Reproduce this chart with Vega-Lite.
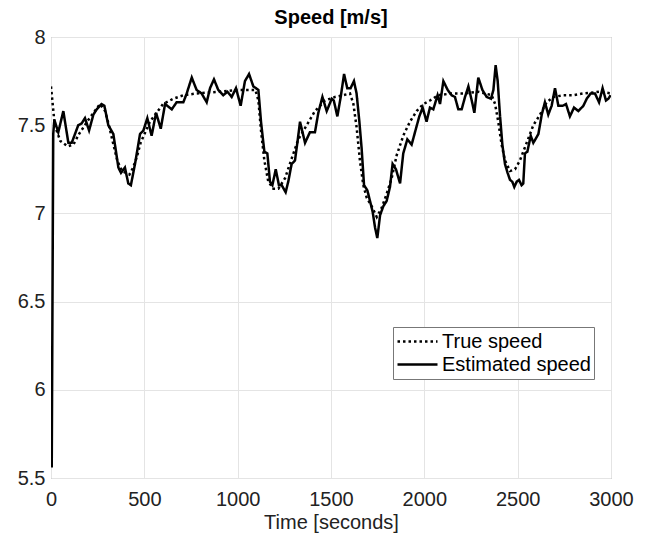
{
  "$schema": "https://vega.github.io/schema/vega-lite/v6.json",
  "width": 560,
  "height": 441,
  "autosize": {"type": "none"},
  "padding": {"left": 51, "top": 37, "right": 35, "bottom": 57},
  "background": "white",
  "title": {"text": "Speed [m/s]", "fontSize": 20, "font": "Liberation Sans", "fontWeight": "bold", "color": "black", "offset": -1},
  "config": {
    "view": {"stroke": "#8c8c8c", "strokeWidth": 1},
    "axis": {
      "labelFont": "Liberation Sans", "labelFontSize": 20, "labelColor": "#222",
      "titleFont": "Liberation Sans", "titleFontSize": 20, "titleColor": "#222", "titleFontWeight": "normal",
      "gridColor": "#e4e4e4", "gridWidth": 1, "domain": false, "ticks": false, "labelFlush": false
    },
    "legend": {
      "orient": "none", "legendX": 342, "legendY": 290,
      "strokeColor": "#777", "fillColor": "white", "padding": 3,
      "labelFont": "Liberation Sans", "labelFontSize": 20, "labelColor": "black",
      "symbolType": "stroke", "symbolStrokeWidth": 2.5, "symbolSize": 1600, "symbolStrokeColor": "black",
      "clipHeight": 23, "rowPadding": 0, "labelOffset": 3
    }
  },
  "data": {"values": [
    {"s":"True speed","t":0,"v":7.72},{"s":"True speed","t":20,"v":7.5},{"s":"True speed","t":50,"v":7.41},{"s":"True speed","t":90,"v":7.38},{"s":"True speed","t":120,"v":7.39},{"s":"True speed","t":150,"v":7.45},{"s":"True speed","t":200,"v":7.53},{"s":"True speed","t":262,"v":7.62},{"s":"True speed","t":290,"v":7.58},{"s":"True speed","t":310,"v":7.5},{"s":"True speed","t":330,"v":7.41},{"s":"True speed","t":355,"v":7.3},{"s":"True speed","t":380,"v":7.24},{"s":"True speed","t":420,"v":7.22},{"s":"True speed","t":440,"v":7.26},{"s":"True speed","t":460,"v":7.32},{"s":"True speed","t":480,"v":7.4},{"s":"True speed","t":530,"v":7.52},{"s":"True speed","t":600,"v":7.62},{"s":"True speed","t":655,"v":7.65},{"s":"True speed","t":710,"v":7.67},{"s":"True speed","t":780,"v":7.68},{"s":"True speed","t":900,"v":7.69},{"s":"True speed","t":1000,"v":7.7},{"s":"True speed","t":1060,"v":7.7},{"s":"True speed","t":1095,"v":7.7},{"s":"True speed","t":1111,"v":7.64},{"s":"True speed","t":1125,"v":7.47},{"s":"True speed","t":1143,"v":7.3},{"s":"True speed","t":1164,"v":7.18},{"s":"True speed","t":1191,"v":7.14},{"s":"True speed","t":1218,"v":7.14},{"s":"True speed","t":1254,"v":7.2},{"s":"True speed","t":1289,"v":7.31},{"s":"True speed","t":1325,"v":7.42},{"s":"True speed","t":1370,"v":7.5},{"s":"True speed","t":1414,"v":7.58},{"s":"True speed","t":1468,"v":7.64},{"s":"True speed","t":1521,"v":7.66},{"s":"True speed","t":1566,"v":7.67},{"s":"True speed","t":1602,"v":7.68},{"s":"True speed","t":1620,"v":7.62},{"s":"True speed","t":1637,"v":7.49},{"s":"True speed","t":1655,"v":7.3},{"s":"True speed","t":1673,"v":7.16},{"s":"True speed","t":1691,"v":7.09},{"s":"True speed","t":1718,"v":7.04},{"s":"True speed","t":1745,"v":6.98},{"s":"True speed","t":1771,"v":7.03},{"s":"True speed","t":1798,"v":7.11},{"s":"True speed","t":1825,"v":7.2},{"s":"True speed","t":1852,"v":7.33},{"s":"True speed","t":1887,"v":7.44},{"s":"True speed","t":1923,"v":7.52},{"s":"True speed","t":1959,"v":7.58},{"s":"True speed","t":1995,"v":7.62},{"s":"True speed","t":2030,"v":7.64},{"s":"True speed","t":2075,"v":7.67},{"s":"True speed","t":2146,"v":7.68},{"s":"True speed","t":2218,"v":7.68},{"s":"True speed","t":2289,"v":7.69},{"s":"True speed","t":2361,"v":7.67},{"s":"True speed","t":2379,"v":7.62},{"s":"True speed","t":2396,"v":7.52},{"s":"True speed","t":2414,"v":7.39},{"s":"True speed","t":2432,"v":7.3},{"s":"True speed","t":2459,"v":7.24},{"s":"True speed","t":2486,"v":7.25},{"s":"True speed","t":2512,"v":7.3},{"s":"True speed","t":2548,"v":7.4},{"s":"True speed","t":2584,"v":7.5},{"s":"True speed","t":2620,"v":7.56},{"s":"True speed","t":2655,"v":7.63},{"s":"True speed","t":2691,"v":7.66},{"s":"True speed","t":2745,"v":7.67},{"s":"True speed","t":2800,"v":7.67},{"s":"True speed","t":2852,"v":7.68},{"s":"True speed","t":2941,"v":7.69},{"s":"True speed","t":3000,"v":7.68},
    {"s":"Estimated speed","t":4,"v":5.56},{"s":"Estimated speed","t":12,"v":7.45},{"s":"Estimated speed","t":18,"v":7.53},{"s":"Estimated speed","t":39,"v":7.46},{"s":"Estimated speed","t":66,"v":7.58},{"s":"Estimated speed","t":93,"v":7.4},{"s":"Estimated speed","t":111,"v":7.4},{"s":"Estimated speed","t":146,"v":7.5},{"s":"Estimated speed","t":164,"v":7.51},{"s":"Estimated speed","t":182,"v":7.54},{"s":"Estimated speed","t":204,"v":7.47},{"s":"Estimated speed","t":227,"v":7.56},{"s":"Estimated speed","t":245,"v":7.59},{"s":"Estimated speed","t":271,"v":7.62},{"s":"Estimated speed","t":286,"v":7.61},{"s":"Estimated speed","t":307,"v":7.5},{"s":"Estimated speed","t":334,"v":7.45},{"s":"Estimated speed","t":361,"v":7.26},{"s":"Estimated speed","t":375,"v":7.23},{"s":"Estimated speed","t":396,"v":7.26},{"s":"Estimated speed","t":414,"v":7.17},{"s":"Estimated speed","t":428,"v":7.16},{"s":"Estimated speed","t":450,"v":7.28},{"s":"Estimated speed","t":477,"v":7.45},{"s":"Estimated speed","t":495,"v":7.47},{"s":"Estimated speed","t":516,"v":7.54},{"s":"Estimated speed","t":539,"v":7.44},{"s":"Estimated speed","t":563,"v":7.57},{"s":"Estimated speed","t":588,"v":7.48},{"s":"Estimated speed","t":611,"v":7.62},{"s":"Estimated speed","t":647,"v":7.59},{"s":"Estimated speed","t":673,"v":7.63},{"s":"Estimated speed","t":709,"v":7.63},{"s":"Estimated speed","t":727,"v":7.68},{"s":"Estimated speed","t":754,"v":7.77},{"s":"Estimated speed","t":780,"v":7.7},{"s":"Estimated speed","t":807,"v":7.68},{"s":"Estimated speed","t":834,"v":7.63},{"s":"Estimated speed","t":852,"v":7.71},{"s":"Estimated speed","t":873,"v":7.76},{"s":"Estimated speed","t":896,"v":7.7},{"s":"Estimated speed","t":923,"v":7.67},{"s":"Estimated speed","t":945,"v":7.69},{"s":"Estimated speed","t":968,"v":7.66},{"s":"Estimated speed","t":991,"v":7.71},{"s":"Estimated speed","t":1016,"v":7.61},{"s":"Estimated speed","t":1039,"v":7.75},{"s":"Estimated speed","t":1061,"v":7.79},{"s":"Estimated speed","t":1084,"v":7.72},{"s":"Estimated speed","t":1111,"v":7.7},{"s":"Estimated speed","t":1125,"v":7.52},{"s":"Estimated speed","t":1143,"v":7.35},{"s":"Estimated speed","t":1159,"v":7.34},{"s":"Estimated speed","t":1173,"v":7.18},{"s":"Estimated speed","t":1186,"v":7.16},{"s":"Estimated speed","t":1204,"v":7.25},{"s":"Estimated speed","t":1221,"v":7.16},{"s":"Estimated speed","t":1236,"v":7.16},{"s":"Estimated speed","t":1257,"v":7.12},{"s":"Estimated speed","t":1271,"v":7.18},{"s":"Estimated speed","t":1289,"v":7.28},{"s":"Estimated speed","t":1307,"v":7.3},{"s":"Estimated speed","t":1321,"v":7.41},{"s":"Estimated speed","t":1334,"v":7.52},{"s":"Estimated speed","t":1361,"v":7.4},{"s":"Estimated speed","t":1387,"v":7.46},{"s":"Estimated speed","t":1414,"v":7.46},{"s":"Estimated speed","t":1432,"v":7.57},{"s":"Estimated speed","t":1454,"v":7.66},{"s":"Estimated speed","t":1477,"v":7.58},{"s":"Estimated speed","t":1504,"v":7.65},{"s":"Estimated speed","t":1515,"v":7.64},{"s":"Estimated speed","t":1534,"v":7.55},{"s":"Estimated speed","t":1552,"v":7.66},{"s":"Estimated speed","t":1570,"v":7.79},{"s":"Estimated speed","t":1587,"v":7.71},{"s":"Estimated speed","t":1605,"v":7.71},{"s":"Estimated speed","t":1623,"v":7.75},{"s":"Estimated speed","t":1637,"v":7.68},{"s":"Estimated speed","t":1652,"v":7.52},{"s":"Estimated speed","t":1664,"v":7.37},{"s":"Estimated speed","t":1677,"v":7.16},{"s":"Estimated speed","t":1695,"v":7.13},{"s":"Estimated speed","t":1709,"v":7.07},{"s":"Estimated speed","t":1723,"v":7.01},{"s":"Estimated speed","t":1736,"v":6.92},{"s":"Estimated speed","t":1748,"v":6.86},{"s":"Estimated speed","t":1763,"v":6.99},{"s":"Estimated speed","t":1780,"v":7.04},{"s":"Estimated speed","t":1798,"v":7.07},{"s":"Estimated speed","t":1816,"v":7.15},{"s":"Estimated speed","t":1830,"v":7.28},{"s":"Estimated speed","t":1848,"v":7.25},{"s":"Estimated speed","t":1870,"v":7.17},{"s":"Estimated speed","t":1887,"v":7.34},{"s":"Estimated speed","t":1909,"v":7.42},{"s":"Estimated speed","t":1932,"v":7.39},{"s":"Estimated speed","t":1955,"v":7.48},{"s":"Estimated speed","t":1973,"v":7.55},{"s":"Estimated speed","t":1991,"v":7.6},{"s":"Estimated speed","t":2012,"v":7.52},{"s":"Estimated speed","t":2030,"v":7.6},{"s":"Estimated speed","t":2048,"v":7.59},{"s":"Estimated speed","t":2071,"v":7.67},{"s":"Estimated speed","t":2084,"v":7.62},{"s":"Estimated speed","t":2102,"v":7.75},{"s":"Estimated speed","t":2125,"v":7.7},{"s":"Estimated speed","t":2146,"v":7.67},{"s":"Estimated speed","t":2164,"v":7.66},{"s":"Estimated speed","t":2182,"v":7.59},{"s":"Estimated speed","t":2200,"v":7.59},{"s":"Estimated speed","t":2218,"v":7.66},{"s":"Estimated speed","t":2236,"v":7.72},{"s":"Estimated speed","t":2254,"v":7.64},{"s":"Estimated speed","t":2268,"v":7.57},{"s":"Estimated speed","t":2289,"v":7.77},{"s":"Estimated speed","t":2311,"v":7.7},{"s":"Estimated speed","t":2334,"v":7.66},{"s":"Estimated speed","t":2357,"v":7.65},{"s":"Estimated speed","t":2370,"v":7.7},{"s":"Estimated speed","t":2382,"v":7.84},{"s":"Estimated speed","t":2393,"v":7.75},{"s":"Estimated speed","t":2405,"v":7.56},{"s":"Estimated speed","t":2418,"v":7.39},{"s":"Estimated speed","t":2432,"v":7.28},{"s":"Estimated speed","t":2446,"v":7.23},{"s":"Estimated speed","t":2459,"v":7.19},{"s":"Estimated speed","t":2471,"v":7.18},{"s":"Estimated speed","t":2482,"v":7.15},{"s":"Estimated speed","t":2495,"v":7.18},{"s":"Estimated speed","t":2507,"v":7.19},{"s":"Estimated speed","t":2521,"v":7.16},{"s":"Estimated speed","t":2530,"v":7.17},{"s":"Estimated speed","t":2539,"v":7.34},{"s":"Estimated speed","t":2552,"v":7.35},{"s":"Estimated speed","t":2570,"v":7.44},{"s":"Estimated speed","t":2584,"v":7.4},{"s":"Estimated speed","t":2611,"v":7.45},{"s":"Estimated speed","t":2629,"v":7.56},{"s":"Estimated speed","t":2646,"v":7.63},{"s":"Estimated speed","t":2664,"v":7.56},{"s":"Estimated speed","t":2682,"v":7.61},{"s":"Estimated speed","t":2700,"v":7.71},{"s":"Estimated speed","t":2718,"v":7.61},{"s":"Estimated speed","t":2741,"v":7.61},{"s":"Estimated speed","t":2759,"v":7.62},{"s":"Estimated speed","t":2780,"v":7.55},{"s":"Estimated speed","t":2802,"v":7.6},{"s":"Estimated speed","t":2825,"v":7.58},{"s":"Estimated speed","t":2852,"v":7.61},{"s":"Estimated speed","t":2870,"v":7.65},{"s":"Estimated speed","t":2891,"v":7.68},{"s":"Estimated speed","t":2914,"v":7.68},{"s":"Estimated speed","t":2936,"v":7.63},{"s":"Estimated speed","t":2955,"v":7.71},{"s":"Estimated speed","t":2973,"v":7.64},{"s":"Estimated speed","t":2986,"v":7.65},{"s":"Estimated speed","t":2998,"v":7.67}
  ]},
  "mark": {"type": "line", "color": "black", "strokeWidth": 2.5, "clip": true},
  "encoding": {
    "x": {"field": "t", "type": "quantitative", "scale": {"domain": [0, 3000], "nice": false}, "axis": {"title": "Time [seconds]", "values": [0, 500, 1000, 1500, 2000, 2500, 3000], "format": "d", "labelPadding": 11, "titlePadding": 3}},
    "y": {"field": "v", "type": "quantitative", "scale": {"domain": [5.5, 8], "nice": false, "zero": false}, "axis": {"title": null, "values": [5.5, 6, 6.5, 7, 7.5, 8], "labelPadding": 6, "format": "~g"}},
    "strokeDash": {"field": "s", "type": "nominal", "scale": {"domain": ["True speed", "Estimated speed"], "range": [[2.5, 3], [1, 0]]}, "legend": {"title": null}}
  }
}
